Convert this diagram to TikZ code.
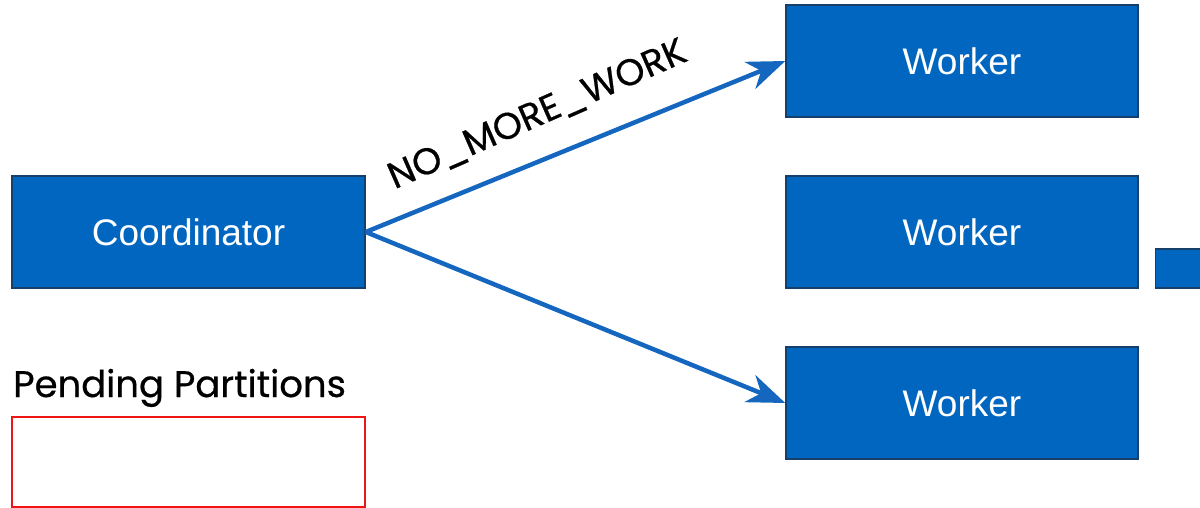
\documentclass[tikz,border=0pt]{standalone}
\usepackage{fontspec}
\setmainfont{Liberation Sans}
\newfontfamily\labelfont[FakeBold=0.6]{Poppins}
\usetikzlibrary{arrows.meta}
\definecolor{boxblue}{RGB}{0,102,192}
\definecolor{boxedge}{RGB}{22,64,107}
\definecolor{arrowblue}{RGB}{20,102,190}
\definecolor{queuered}{RGB}{240,20,20}
\tikzset{
  procbox/.style={draw=boxedge, line width=1.5pt, fill=boxblue, text=white,
    minimum width=352pt, minimum height=112pt, inner sep=0pt,
    font=\fontsize{37}{41}\selectfont},
  msgarrow/.style={draw=arrowblue, line width=4.5pt,
    -{Stealth[length=38pt, width=29pt, inset=12pt]}},
  caption/.style={font=\labelfont\fontsize{37}{42}\selectfont, text=black, inner sep=0pt}
}
\begin{document}
\begin{tikzpicture}[x=1pt,y=-1pt]
  \useasboundingbox (0,0) rectangle (1200,508);
  \fill[white] (0,0) rectangle (1200,508);

  % processes
  \node[procbox, minimum width=353pt] (coord) at (188.5,232) {Coordinator};
  \node[procbox] (w1) at (962,61) {Worker};
  \node[procbox] (w2) at (962,232) {Worker};
  \node[procbox] (w3) at (962,403) {Worker};
  \node[procbox, minimum width=47pt, minimum height=39pt] (extra) at (1179,268.5) {};

  % pending partitions queue
  \node[caption, anchor=base west] (pendlabel) at (13,397) {Pending Partitions};
  \node[draw=queuered, line width=1.6pt, minimum width=353pt, minimum height=90pt,
        inner sep=0pt] (pending) at (188.5,462) {};

  % messages
  \draw[msgarrow] (coord.east) -- (w1.west)
    node[pos=0.45, sloped, above=26pt, rotate=1.5, caption] (msg) {NO\_MORE\_WORK};
  \draw[msgarrow] (coord.east) -- (w3.west);
\end{tikzpicture}
\end{document}
